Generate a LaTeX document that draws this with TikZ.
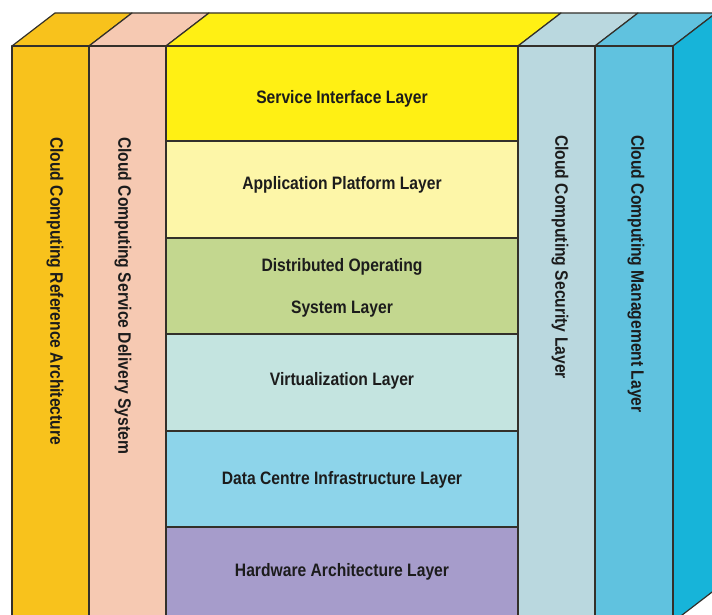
\documentclass[tikz,border=0pt]{standalone}
\usepackage{fontspec}
\setmainfont{Liberation Sans}
\usepackage{graphicx}
\usepackage{tikz}
\usetikzlibrary{positioning}

\definecolor{edgecol}{HTML}{33302A}
\definecolor{txtcol}{HTML}{1C1C1C}
\definecolor{refarch}{HTML}{F8C21C}
\definecolor{delivery}{HTML}{F6C9B2}
\definecolor{svcif}{HTML}{FFF014}
\definecolor{appplat}{HTML}{FDF6A8}
\definecolor{distos}{HTML}{C3D78F}
\definecolor{virt}{HTML}{C4E4E0}
\definecolor{datacen}{HTML}{8DD4EA}
\definecolor{hwarch}{HTML}{A69CCB}
\definecolor{security}{HTML}{BAD8DF}
\definecolor{mgmt}{HTML}{60C2DF}
\definecolor{sideface}{HTML}{17B4D9}

\newcommand{\sqz}[1]{\scalebox{0.87}[1]{#1}}

\begin{document}
\begin{tikzpicture}[x=1pt, y=-1pt,
    face/.style={draw=edgecol, line width=1.2pt, line join=round},
    lbl/.style={font=\fontsize{18}{20}\selectfont\bfseries, text=txtcol, inner sep=0pt},
    vlbl/.style={lbl, rotate=-90, anchor=west}]

    \useasboundingbox (0,0) rectangle (712,615);
    \clip (0,0) rectangle (712,615);

    % Top faces
    \draw[face, fill=refarch] (12,46) -- (55,13) -- (132,13) -- (89,46) -- cycle;
    \draw[face, fill=delivery] (89,46) -- (132,13) -- (209,13) -- (166,46) -- cycle;
    \draw[face, fill=svcif] (166,46) -- (209,13) -- (561,13) -- (518,46) -- cycle;
    \draw[face, fill=security] (518,46) -- (561,13) -- (638,13) -- (595,46) -- cycle;
    \draw[face, fill=mgmt] (595,46) -- (638,13) -- (716,13) -- (673,46) -- cycle;

    % Right side face
    \draw[face, fill=sideface] (673,46) -- (716,13) -- (716,589) -- (673,622) -- cycle;

    % Outer columns
    \draw[face, fill=refarch] (12,46) rectangle (89,622);
    \draw[face, fill=delivery] (89,46) rectangle (166,622);
    \draw[face, fill=security] (518,46) rectangle (595,622);
    \draw[face, fill=mgmt] (595,46) rectangle (673,622);

    % Middle layers
    \draw[face, fill=svcif] (166,46) rectangle (518,141);
    \draw[face, fill=appplat] (166,141) rectangle (518,238);
    \draw[face, fill=distos] (166,238) rectangle (518,334);
    \draw[face, fill=virt] (166,334) rectangle (518,431);
    \draw[face, fill=datacen] (166,431) rectangle (518,527);
    \draw[face, fill=hwarch] (166,527) rectangle (518,622);

    % Layer labels
    \node[lbl] (svc) at (342,99) {\sqz{Service Interface Layer}};
    \node[lbl] (app) at (342,185) {\sqz{Application Platform Layer}};
    \node[lbl, align=center, font=\fontsize{18}{42}\selectfont\bfseries] (dos) at (342,288)
        {\sqz{Distributed Operating}\\\sqz{System Layer}};
    \node[lbl] (vrt) at (342,381) {\sqz{Virtualization Layer}};
    \node[lbl] (dcl) at (342,480) {\sqz{Data Centre Infrastructure Layer}};
    \node[lbl] (hwl) at (342,572) {\sqz{Hardware Architecture Layer}};

    % Vertical labels
    \node[vlbl] (ref) at (55,137) {\sqz{Cloud Computing Reference Architecture}};
    \node[vlbl] (dlv) at (123,137) {\sqz{Cloud Computing Service Delivery System}};
    \node[vlbl] (sec) at (560,135) {\sqz{Cloud Computing Security Layer}};
    \node[vlbl] (mgt) at (636,135) {\sqz{Cloud Computing Management Layer}};
\end{tikzpicture}
\end{document}
